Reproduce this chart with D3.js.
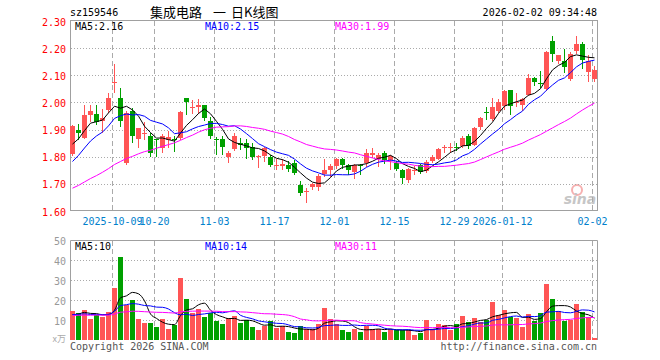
<!DOCTYPE html>
<html>
<head>
<meta charset="utf-8">
<script src="https://cdn.jsdelivr.net/npm/d3@7"></script>
<style>
  body { margin: 0; background: #fff; }
  svg text { font-family: "DejaVu Sans Mono", "Liberation Mono", monospace; font-size: 10px; }
</style>
</head>
<body>
<div id="chart"></div>
<script>
// trading days shown on the chart
const dates = [
  "2025-09-22","2025-09-23","2025-09-24","2025-09-25","2025-09-26","2025-09-29","2025-09-30",
  "2025-10-09","2025-10-10","2025-10-13","2025-10-14","2025-10-15","2025-10-16","2025-10-17",
  "2025-10-20","2025-10-21","2025-10-22","2025-10-23","2025-10-24","2025-10-27","2025-10-28",
  "2025-10-29","2025-10-30","2025-10-31","2025-11-03","2025-11-04","2025-11-05","2025-11-06",
  "2025-11-07","2025-11-10","2025-11-11","2025-11-12","2025-11-13","2025-11-14","2025-11-17",
  "2025-11-18","2025-11-19","2025-11-20","2025-11-21","2025-11-24","2025-11-25","2025-11-26",
  "2025-11-27","2025-11-28","2025-12-01","2025-12-02","2025-12-03","2025-12-04","2025-12-05",
  "2025-12-08","2025-12-09","2025-12-10","2025-12-11","2025-12-12","2025-12-15","2025-12-16",
  "2025-12-17","2025-12-18","2025-12-19","2025-12-22","2025-12-23","2025-12-24","2025-12-25",
  "2025-12-26","2025-12-29","2025-12-30","2025-12-31","2026-01-05","2026-01-06","2026-01-07",
  "2026-01-08","2026-01-09","2026-01-12","2026-01-13","2026-01-14","2026-01-15","2026-01-16",
  "2026-01-19","2026-01-20","2026-01-21","2026-01-22","2026-01-23","2026-01-26","2026-01-27",
  "2026-01-28","2026-01-29","2026-01-30","2026-02-02"
];

const open = [
  1.809,1.900,1.870,1.952,1.956,1.931,1.971,2.073,2.018,1.776,
  1.970,1.864,1.886,1.876,1.864,1.833,1.860,1.864,1.870,2.018,
  1.979,1.982,1.989,1.933,1.866,1.866,1.800,1.827,1.852,1.849,
  1.837,1.799,1.803,1.798,1.767,1.766,1.770,1.776,1.695,1.670,
  1.689,1.690,1.735,1.750,1.764,1.793,1.768,1.744,1.771,1.776,
  1.808,1.793,1.815,1.788,1.778,1.751,1.715,1.749,1.768,1.748,
  1.784,1.793,1.832,1.832,1.834,1.839,1.876,1.845,1.910,1.965,
  1.940,1.968,1.986,2.044,1.998,1.992,2.029,2.090,2.073,2.050,
  2.227,2.154,2.154,2.088,2.188,2.216,2.112,2.088
];
const high = [
  1.918,1.919,1.989,1.989,1.989,1.974,2.033,2.143,2.053,1.968,
  1.980,1.906,1.927,1.886,1.866,1.882,1.894,1.878,1.968,2.018,
  2.008,2.013,1.989,1.947,1.874,1.876,1.821,1.886,1.870,1.864,
  1.852,1.805,1.837,1.805,1.790,1.790,1.784,1.787,1.711,1.683,
  1.705,1.735,1.793,1.772,1.797,1.797,1.772,1.772,1.772,1.830,
  1.832,1.815,1.821,1.805,1.784,1.756,1.760,1.766,1.772,1.787,
  1.805,1.833,1.842,1.849,1.852,1.876,1.882,1.910,1.947,1.984,
  2.017,2.011,2.047,2.044,2.033,2.017,2.106,2.094,2.114,2.188,
  2.243,2.176,2.196,2.184,2.245,2.224,2.176,2.133
];
const low = [
  1.805,1.864,1.868,1.931,1.920,1.891,1.965,2.037,1.913,1.772,
  1.854,1.837,1.867,1.803,1.803,1.817,1.837,1.821,1.866,1.956,
  1.962,1.962,1.935,1.870,1.809,1.809,1.781,1.825,1.827,1.797,
  1.790,1.762,1.784,1.764,1.756,1.754,1.748,1.735,1.660,1.632,
  1.680,1.678,1.729,1.729,1.760,1.760,1.735,1.720,1.735,1.764,
  1.799,1.766,1.778,1.756,1.751,1.705,1.707,1.735,1.739,1.744,
  1.781,1.790,1.817,1.817,1.825,1.837,1.832,1.842,1.903,1.940,
  1.935,1.964,1.976,1.956,1.986,1.971,2.026,2.066,2.057,2.045,
  2.151,2.145,2.111,2.081,2.182,2.127,2.078,2.078
];
const close = [
  1.913,1.886,1.952,1.967,1.927,1.943,2.018,2.075,1.931,1.962,
  1.876,1.904,1.888,1.815,1.860,1.878,1.874,1.860,1.964,2.001,
  1.982,1.989,1.943,1.876,1.861,1.836,1.812,1.878,1.842,1.831,
  1.800,1.801,1.833,1.768,1.769,1.775,1.754,1.739,1.666,1.672,
  1.701,1.729,1.750,1.764,1.793,1.768,1.751,1.771,1.767,1.815,
  1.812,1.808,1.788,1.803,1.754,1.720,1.756,1.751,1.744,1.781,
  1.800,1.830,1.834,1.834,1.832,1.870,1.839,1.907,1.943,1.963,
  1.984,2.001,2.041,1.986,2.002,2.014,2.090,2.075,2.072,2.184,
  2.178,2.173,2.130,2.179,2.216,2.155,2.151,2.121
];
// volume, in 万
const volume = [
  14.5,13.5,15,10.5,12.5,11.5,14,26,41.5,17.5,
  20,10.5,8.5,8.5,6.5,10.5,5.5,7.5,31,20.5,
  13.5,15.5,11.5,13.5,9.5,8,11,12,8.5,10,
  6.5,5,7,9.5,6,7,4,3.5,7,5.5,
  5.5,8,16,10.5,8,5,4,5.5,4,7,
  5.5,5.5,4,5.5,5,5,5,2.5,3.5,10,
  5.5,8,7.5,5,8,12,9,11,9,10,
  19,12.5,15,11.5,11,6.5,13,9.5,13.5,28,
  20.5,14.5,9.5,10,18,14,11.5,1
];
// 29 sessions before the window, only used so the moving averages start where the picture shows them
const priorCloses = [
  1.58,1.57,1.59,1.60,1.58,1.61,1.62,1.60,1.63,1.64,1.62,1.65,1.66,1.64,1.67,
  1.68,1.66,1.69,1.70,1.71,1.66,1.68,1.71,1.74,1.80,1.79,1.80,1.83,1.90
];
const priorVolume = [
  11,13,12,10,14,12,11,13,12,11,12,14,13,11,12,10,13,12,14,11,13,12,14,12,13,12,11,13,13
];

const priceTicks = [1.60,1.70,1.80,1.90,2.00,2.10,2.20,2.30];
const volTicks = [10,20,30,40,50];
const tickDates = ["2025-10-09","2025-10-20","2025-11-03","2025-11-17","2025-12-01","2025-12-15","2025-12-29","2026-01-12","2026-02-02"];
const tickLabels = ["2025-10-09","10-20","11-03","11-17","12-01","12-15","12-29","2026-01-12","02-02"];

const RED = "#ff5555", GREEN = "#00a000";
const maColors = { 5: "#000000", 10: "#0000ff", 30: "#ff00ff" };

function movingAvg(prior, values, n) {
  const all = prior.concat(values);
  const off = prior.length;
  return values.map((v, i) => d3.mean(all.slice(off + i - n + 1, off + i + 1)));
}
const fmt2 = v => (Math.floor(v * 100) / 100).toFixed(2);
const fmt0 = v => String(Math.floor(v));

const svg = d3.select("#chart").append("svg")
  .attr("width", 660).attr("height", 360);

const x = d3.scaleBand().domain(dates).range([70, 598]);
const yP = d3.scaleLinear().domain([1.6, 2.3]).range([211, 21]);
const yV = d3.scaleLinear().domain([0, 50]).range([340, 240]);

const gridColor = "#aaaaaa", borderColor = "#a0a0a0";

// header
svg.append("text").attr("x", 70).attr("y", 16).text("sz159546");
const title = svg.append("text").attr("y", 17)
  .style("font-family", "'Noto Sans CJK SC', sans-serif").style("font-size", "13px");
title.append("tspan").attr("x", 150).text("集成电路");
title.append("tspan").attr("x", 213).text("一");
title.append("tspan").attr("x", 231).text("日K线图");
svg.append("text").attr("x", 597).attr("y", 16).attr("text-anchor", "end")
  .text("2026-02-02 09:34:48");

// sina watermark
const logo = svg.append("g").attr("opacity", 0.55);
logo.append("circle").attr("cx", 577).attr("cy", 190).attr("r", 5)
  .attr("fill", "none").attr("stroke", "#f07070").attr("stroke-width", 2);
logo.append("text").attr("x", 580).attr("y", 204).attr("text-anchor", "middle")
  .style("font-family", "'DejaVu Sans', sans-serif").style("font-size", "14px")
  .style("font-weight", "bold").style("font-style", "italic")
  .attr("fill", "#999").text("sina");

// price grid
svg.append("g").selectAll("line")
  .data(priceTicks.filter(t => t > 1.65 && t < 2.25))
  .join("line")
  .attr("x1", 71).attr("x2", 597)
  .attr("y1", d => Math.round(yP(d)) + 0.5).attr("y2", d => Math.round(yP(d)) + 0.5)
  .attr("stroke", gridColor).attr("stroke-dasharray", "1,2");

svg.append("g").selectAll("line")
  .data(tickDates)
  .join("line")
  .attr("x1", d => x(d) + 0.5).attr("x2", d => x(d) + 0.5)
  .attr("y1", 21).attr("y2", 210)
  .attr("stroke", gridColor).attr("stroke-dasharray", "5,3");

svg.append("rect").attr("x", 70.5).attr("y", 20.5).attr("width", 527).attr("height", 190)
  .attr("fill", "none").attr("stroke", borderColor);

// price axis labels
svg.append("g").selectAll("text")
  .data(priceTicks)
  .join("text")
  .attr("x", 66).attr("y", d => yP(d) + 1)
  .attr("text-anchor", "end").attr("dominant-baseline", "central")
  .attr("fill", "#ff0000")
  .text(d => d.toFixed(2));

// date labels
svg.append("g").selectAll("text")
  .data(tickDates)
  .join("text")
  .attr("x", d => x(d) + 0.5).attr("y", 225)
  .attr("text-anchor", "middle").attr("fill", "#0080cc")
  .text((d, i) => tickLabels[i]);

// candles
const bars = dates.map((d, i) => ({ d, o: open[i], h: high[i], l: low[i], c: close[i], v: volume[i] }));
const candle = svg.append("g").selectAll("g").data(bars).join("g");
candle.append("line")
  .attr("x1", b => x(b.d) + 2.5).attr("x2", b => x(b.d) + 2.5)
  .attr("y1", b => Math.round(yP(b.h))).attr("y2", b => Math.round(yP(b.l)) + 1)
  .attr("stroke", b => b.c >= b.o ? RED : GREEN);
candle.append("rect")
  .attr("x", b => x(b.d)).attr("width", 5)
  .attr("y", b => Math.round(yP(Math.max(b.o, b.c))))
  .attr("height", b => Math.max(1, Math.round(yP(Math.min(b.o, b.c))) - Math.round(yP(Math.max(b.o, b.c)))))
  .attr("fill", b => b.c >= b.o ? RED : GREEN);

// price moving averages
const priceMA = {};
[5, 10, 30].forEach(n => {
  priceMA[n] = movingAvg(priorCloses, close, n);
  svg.append("path")
    .datum(priceMA[n])
    .attr("fill", "none").attr("stroke", maColors[n]).attr("stroke-width", 1)
    .attr("d", d3.line().x((v, i) => x(dates[i]) + 2.5).y(v => yP(v)));
});

const last = dates.length - 1;
svg.append("text").attr("x", 75).attr("y", 30).attr("fill", maColors[5]).text("MA5:" + fmt2(priceMA[5][last]));
svg.append("text").attr("x", 205).attr("y", 30).attr("fill", maColors[10]).text("MA10:" + fmt2(priceMA[10][last]));
svg.append("text").attr("x", 335).attr("y", 30).attr("fill", maColors[30]).text("MA30:" + fmt2(priceMA[30][last]));

// volume panel
svg.append("g").selectAll("line")
  .data(volTicks.filter(t => t < 50))
  .join("line")
  .attr("x1", 71).attr("x2", 597)
  .attr("y1", d => Math.round(yV(d)) + 0.5).attr("y2", d => Math.round(yV(d)) + 0.5)
  .attr("stroke", gridColor).attr("stroke-dasharray", "1,2");

svg.append("g").selectAll("line")
  .data(tickDates)
  .join("line")
  .attr("x1", d => x(d) + 0.5).attr("x2", d => x(d) + 0.5)
  .attr("y1", 241).attr("y2", 340)
  .attr("stroke", gridColor).attr("stroke-dasharray", "5,3");

svg.append("path")
  .attr("d", "M70.5,340V240.5H597.5V340")
  .attr("fill", "none").attr("stroke", borderColor);

svg.append("g").selectAll("text")
  .data(volTicks)
  .join("text")
  .attr("x", 66).attr("y", d => yV(d) + 1)
  .attr("text-anchor", "end").attr("dominant-baseline", "central")
  .attr("fill", "#999")
  .text(d => d);
svg.append("text").attr("x", 66).attr("y", 342).attr("text-anchor", "end")
  .attr("fill", "#aaa").style("font-family", "'Noto Sans CJK SC', sans-serif")
  .style("font-size", "9px").text("x万");

svg.append("g").selectAll("rect")
  .data(bars)
  .join("rect")
  .attr("x", b => x(b.d)).attr("width", 5)
  .attr("y", b => Math.round(yV(b.v)))
  .attr("height", b => 340 - Math.round(yV(b.v)))
  .attr("fill", b => b.c >= b.o ? RED : GREEN);

const volMA = {};
[5, 10, 30].forEach(n => {
  volMA[n] = movingAvg(priorVolume, volume, n);
  svg.append("path")
    .datum(volMA[n])
    .attr("fill", "none").attr("stroke", maColors[n]).attr("stroke-width", 1)
    .attr("d", d3.line().curve(d3.curveMonotoneX).x((v, i) => x(dates[i]) + 2.5).y(v => yV(v)));
});

svg.append("text").attr("x", 75).attr("y", 250).attr("fill", maColors[5]).text("MA5:" + fmt0(volMA[5][last]));
svg.append("text").attr("x", 205).attr("y", 250).attr("fill", maColors[10]).text("MA10:" + fmt0(volMA[10][last]));
svg.append("text").attr("x", 335).attr("y", 250).attr("fill", maColors[30]).text("MA30:" + fmt0(volMA[30][last]));

// footer
svg.append("text").attr("x", 70).attr("y", 350).attr("fill", "#555").text("Copyright 2026 SINA.COM");
svg.append("text").attr("x", 597).attr("y", 350).attr("text-anchor", "end").attr("fill", "#555")
  .text("http://finance.sina.com.cn");
</script>
</body>
</html>
